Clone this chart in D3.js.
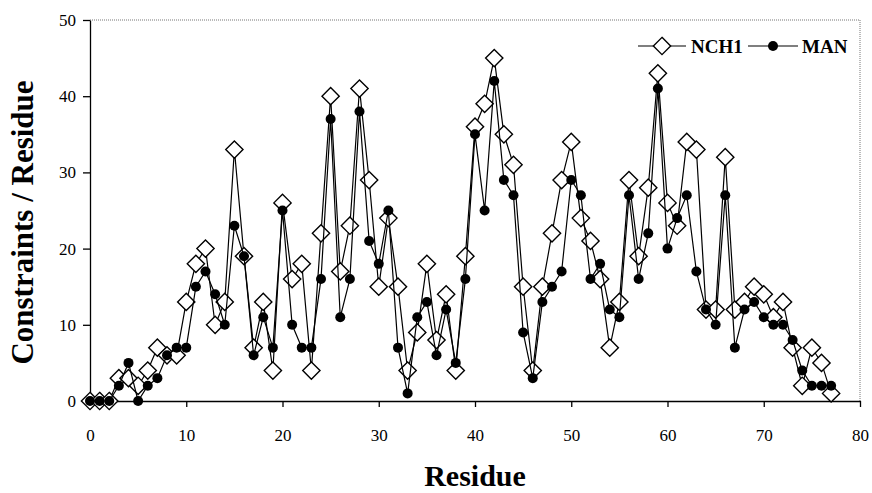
<!DOCTYPE html>
<html>
<head>
<meta charset="utf-8">
<script src="https://cdn.jsdelivr.net/npm/d3@7"></script>
<style>
  body { margin: 0; background: #fff; }
  svg { font-family: "Liberation Serif", "Times New Roman", serif; }
</style>
</head>
<body>
<svg id="chart" width="872" height="493"></svg>
<script>
// residue numbers 0..77
const residues = d3.range(0, 78);
const nch1 = [0, 0, 0, 3, 3, 2, 4, 7, 6, 6,
  13, 18, 20, 10, 13, 33, 19, 7, 13, 4,
  26, 16, 18, 4, 22, 40, 17, 23, 41, 29,
  15, 24, 15, 4, 9, 18, 8, 14, 4, 19,
  36, 39, 45, 35, 31, 15, 4, 15, 22, 29,
  34, 24, 21, 16, 7, 13, 29, 19, 28, 43,
  26, 23, 34, 33, 12, 12, 32, 12, 13, 15,
  14, 11, 13, 7, 2, 7, 5, 1];
const man = [0, 0, 0, 2, 5, 0, 2, 3, 6, 7,
  7, 15, 17, 14, 10, 23, 19, 6, 11, 7,
  25, 10, 7, 7, 16, 37, 11, 16, 38, 21,
  18, 25, 7, 1, 11, 13, 6, 12, 5, 16,
  35, 25, 42, 29, 27, 9, 3, 13, 15, 17,
  29, 27, 16, 18, 12, 11, 27, 16, 22, 41,
  20, 24, 27, 17, 12, 10, 27, 7, 12, 13,
  11, 10, 10, 8, 4, 2, 2, 2];
const xTicks = [0, 10, 20, 30, 40, 50, 60, 70, 80];
const yTicks = [0, 10, 20, 30, 40, 50];

const svg = d3.select('#chart');
const x = d3.scaleLinear().domain([0, 80]).range([90, 860]);
const y = d3.scaleLinear().domain([0, 50]).range([401, 20]);

// frame (top + right, faint dotted)
svg.append('path')
  .attr('d', `M${x(0)},${y(50)}H${x(80)}V${y(0)}`)
  .attr('fill', 'none')
  .attr('stroke', '#777')
  .attr('stroke-width', 1)
  .attr('stroke-dasharray', '1,1');

const xAxis = svg.append('g')
  .attr('transform', `translate(0,${y(0)})`)
  .call(d3.axisBottom(x).tickValues(xTicks).tickSize(6).tickPadding(22).tickSizeOuter(0));
const yAxis = svg.append('g')
  .attr('transform', `translate(${x(0)},0)`)
  .call(d3.axisLeft(y).tickValues(yTicks).tickSize(7).tickPadding(7).tickSizeOuter(0));

[xAxis, yAxis].forEach(a => {
  a.selectAll('path, line').attr('stroke', '#000').attr('stroke-width', 1.3);
  a.selectAll('text')
    .attr('font-family', '"Liberation Serif", serif')
    .attr('font-size', 17)
    .attr('fill', '#000');
});

// axis titles
svg.append('text')
  .attr('x', (x(0) + x(80)) / 2)
  .attr('y', 486)
  .attr('text-anchor', 'middle')
  .attr('font-size', 30)
  .attr('font-weight', 'bold')
  .text('Residue');

svg.append('text')
  .attr('transform', `translate(33,${(y(0) + y(50)) / 2 + 12}) rotate(-90)`)
  .attr('text-anchor', 'middle')
  .attr('font-size', 31)
  .attr('font-weight', 'bold')
  .text('Constraints / Residue');

const line = d3.line()
  .x((d, i) => x(residues[i]))
  .y(d => y(d));

const diamond = d3.symbol().type(d3.symbolDiamond2).size(190);

function drawNch1(g, pts) {
  g.selectAll('path.dia')
    .data(pts)
    .enter().append('path')
    .attr('class', 'dia')
    .attr('d', diamond)
    .attr('transform', d => `translate(${d[0]},${d[1]})`)
    .attr('fill', '#fff')
    .attr('stroke', '#000')
    .attr('stroke-width', 1.4);
}

// NCH1 series
svg.append('path')
  .datum(nch1)
  .attr('d', line)
  .attr('fill', 'none')
  .attr('stroke', '#000')
  .attr('stroke-width', 1.2);
drawNch1(svg.append('g'), nch1.map((v, i) => [x(residues[i]), y(v)]));

// MAN series
svg.append('path')
  .datum(man)
  .attr('d', line)
  .attr('fill', 'none')
  .attr('stroke', '#000')
  .attr('stroke-width', 1.2);
svg.append('g').selectAll('circle')
  .data(man)
  .enter().append('circle')
  .attr('cx', (d, i) => x(residues[i]))
  .attr('cy', d => y(d))
  .attr('r', 5)
  .attr('fill', '#000');

// legend
const lg = svg.append('g').attr('transform', 'translate(0,46)');
lg.append('line').attr('x1', 638).attr('x2', 686).attr('stroke', '#000').attr('stroke-width', 1.2);
drawNch1(lg.append('g'), [[662, 0]]);
lg.append('text').attr('x', 691).attr('y', 7).attr('font-size', 19).attr('font-weight', 'bold').text('NCH1');
lg.append('line').attr('x1', 748).attr('x2', 798).attr('stroke', '#000').attr('stroke-width', 1.2);
lg.append('circle').attr('cx', 773).attr('cy', 0).attr('r', 5).attr('fill', '#000');
lg.append('text').attr('x', 802).attr('y', 7).attr('font-size', 19).attr('font-weight', 'bold').text('MAN');
</script>
</body>
</html>
